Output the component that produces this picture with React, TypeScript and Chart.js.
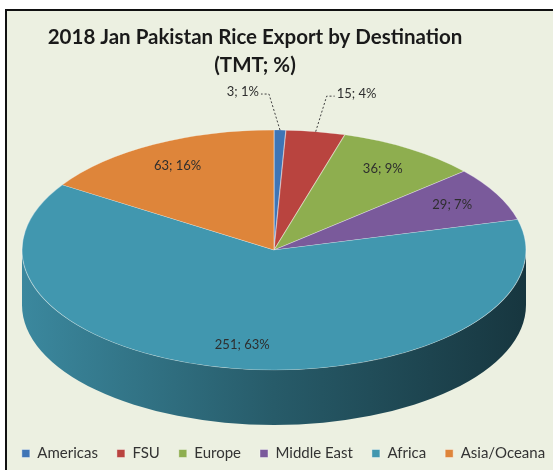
import React, { useEffect, useRef } from 'react';
import { Chart, registerables } from 'chart.js';

Chart.register(...registerables);

const categories = ['Americas', 'FSU', 'Europe', 'Middle East', 'Africa', 'Asia/Oceana'];
const values = [3, 15, 36, 29, 251, 63];
const percents = [1, 4, 9, 7, 63, 16];
const colors = ['#3F75B6', '#B9443F', '#8EAE4F', '#7A5A9B', '#4197AF', '#DE853A'];
const titleLines = ['2018 Jan Pakistan Rice Export by Destination', '(TMT; %)'];

function shade(hex: string, f: number) {
  const n = parseInt(hex.slice(1), 16);
  const r = Math.round(((n >> 16) & 255) * f);
  const g = Math.round(((n >> 8) & 255) * f);
  const b = Math.round((n & 255) * f);
  return `rgb(${r},${g},${b})`;
}

const pie3d = {
  id: 'pie3d',
  beforeDatasetsDraw(chart: any, _args: any, opts: any) {
    const meta = chart.getDatasetMeta(0);
    const ctx = chart.ctx as CanvasRenderingContext2D;
    const { cx, cy, rx, ry, depth } = opts;
    meta.data.forEach((arc: any, i: number) => {
      const { startAngle, endAngle } = arc.getProps(['startAngle', 'endAngle'], true);
      for (const base of [-2 * Math.PI, 0, 2 * Math.PI]) {
        const a1 = Math.max(startAngle, base);
        const a2 = Math.min(endAngle, base + Math.PI);
        if (a2 > a1) {
          ctx.save();
          ctx.beginPath();
          ctx.ellipse(cx, cy, rx, ry, 0, a1, a2, false);
          ctx.ellipse(cx, cy + depth, rx, ry, 0, a2, a1, true);
          ctx.closePath();
          const g = ctx.createLinearGradient(cx - rx, 0, cx + rx, 0);
          g.addColorStop(0, shade(colors[i], 0.9));
          g.addColorStop(0.5, shade(colors[i], 0.6));
          g.addColorStop(1, shade(colors[i], 0.36));
          ctx.fillStyle = g;
          ctx.fill();
          ctx.restore();
        }
      }
    });
    const a0 = meta.data[0];
    const r = a0.outerRadius;
    ctx.save();
    ctx.translate(cx, cy);
    ctx.scale(rx / r, ry / r);
    ctx.translate(-a0.x, -a0.y);
  },
  afterDatasetsDraw(chart: any, _args: any, opts: any) {
    const ctx = chart.ctx as CanvasRenderingContext2D;
    ctx.restore();
    const meta = chart.getDatasetMeta(0);
    const { cx, cy, rx, ry } = opts;
    const total = values.reduce((a, b) => a + b, 0);
    ctx.save();
    ctx.font = '13px Lato';
    ctx.fillStyle = '#2E2E2E';
    ctx.textBaseline = 'middle';
    meta.data.forEach((arc: any, i: number) => {
      const { startAngle, endAngle } = arc.getProps(['startAngle', 'endAngle'], true);
      const mid = (startAngle + endAngle) / 2;
      const text = `${values[i]}; ${percents[i]}%`;
      if (values[i] / total < 0.05) {
        const ex = cx + rx * Math.cos(mid);
        const ey = cy + ry * Math.sin(mid);
        const dir = Math.cos(mid) > 0.08 ? 1 : -1;
        const bx = ex + dir * 11;
        const by = cy + ry * 1.3 * Math.sin(mid);
        ctx.save();
        ctx.strokeStyle = '#404040';
        ctx.lineWidth = 1;
        ctx.setLineDash([2, 2]);
        ctx.beginPath();
        ctx.moveTo(ex, ey);
        ctx.lineTo(bx, by);
        ctx.lineTo(bx + dir * 8, by);
        ctx.stroke();
        ctx.restore();
        ctx.textAlign = dir > 0 ? 'left' : 'right';
        ctx.fillText(text, bx + dir * 10, by - 2);
      } else {
        const f = 0.8;
        ctx.textAlign = 'center';
        ctx.fillText(text, cx + rx * f * Math.cos(mid), cy + ry * f * Math.sin(mid));
      }
    });
    ctx.restore();
  },
};

const titlePlugin = {
  id: 'customTitle',
  afterDraw(chart: any, _args: any, opts: any) {
    const ctx = chart.ctx as CanvasRenderingContext2D;
    ctx.save();
    ctx.font = 'bold 20.5px Lato';
    ctx.fillStyle = '#1A1A1A';
    ctx.textAlign = 'center';
    ctx.textBaseline = 'middle';
    titleLines.forEach((t, i) => ctx.fillText(t, opts.x, opts.y + i * opts.lineHeight));
    ctx.restore();
  },
};

export default function App() {
  const ref = useRef<HTMLCanvasElement>(null);
  useEffect(() => {
    document.body.style.margin = '0';
    const chart = new Chart(ref.current as HTMLCanvasElement, {
      type: 'pie',
      data: {
        labels: categories,
        datasets: [
          {
            data: values,
            backgroundColor: colors,
            borderColor: 'rgba(255,255,255,0.4)',
            borderWidth: 1,
            clip: false as any,
          },
        ],
      },
      options: {
        responsive: false,
        animation: false,
        layout: { padding: { bottom: -1, left: -6, right: -20 } },
        plugins: {
          legend: {
            position: 'bottom',
            labels: {
              boxWidth: 8,
              boxHeight: 8,
              padding: 19,
              color: '#333333',
              font: { family: 'Lato', size: 15 },
            },
          },
          tooltip: { enabled: false },
          pie3d: { cx: 274, cy: 250, rx: 252, ry: 120, depth: 55 },
          customTitle: { x: 255, y: 37, lineHeight: 28 },
        } as any,
      },
      plugins: [pie3d, titlePlugin],
    });
    return () => chart.destroy();
  }, []);
  return (
    <div style={{ position: 'fixed', left: 0, top: 0, width: 553, height: 470, background: '#fff', overflow: 'hidden' }}>
      <div
        style={{
          position: 'absolute',
          left: 5,
          top: 9,
          width: 620,
          height: 520,
          borderLeft: '2px solid #111',
          borderTop: '2px solid #111',
          background: '#ECF0E1',
        }}
      />
      <canvas ref={ref} width={553} height={470} style={{ position: 'absolute', left: 0, top: 0 }} />
    </div>
  );
}
